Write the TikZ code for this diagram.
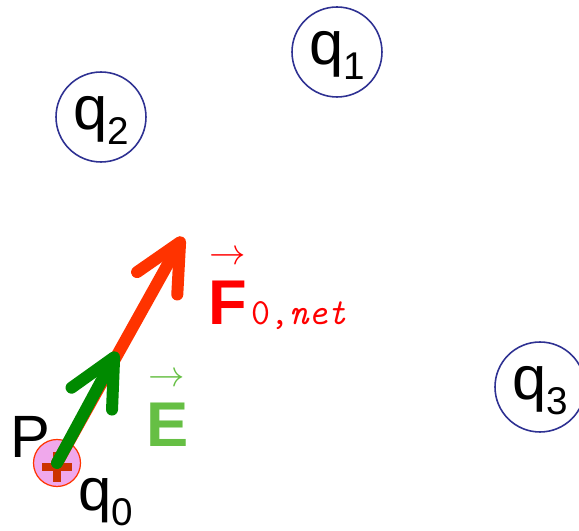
\documentclass[tikz,border=0pt]{standalone}
\usepackage{fontspec}
\setmainfont{Liberation Sans}
\usetikzlibrary{arrows.meta}
\definecolor{navy}{HTML}{2E3192}
\definecolor{fred}{HTML}{FF3300}
\definecolor{lblred}{HTML}{FF0000}
\definecolor{dgreen}{HTML}{008A00}
\definecolor{lgreen}{HTML}{66BF44}
\definecolor{testpink}{HTML}{F0A8EC}
\definecolor{plusred}{HTML}{CC3300}
\newcommand{\qlabel}[1]{q\raisebox{-0.3cm}{\fontsize{22}{22}\selectfont #1}}
\tikzset{
  charge/.style={circle,draw=navy,line width=0.9pt,minimum size=1.8cm,inner sep=0pt,
    text height=0.82cm,text depth=0.3cm,font=\fontsize{35}{40}\selectfont},
  testq/.style={circle,draw=fred,fill=testpink,line width=0.7pt,minimum size=0.94cm,inner sep=0pt},
  plussign/.style={plusred,line width=0.16cm},
  vecline/.style={line width=0.24cm,line cap=round,-{Straight Barb[length=0.94cm,width=0.92cm,round]}},
  big/.style={font=\fontsize{34}{40}\selectfont,inner sep=0pt},
  vlbl/.style={font=\fontsize{36}{40}\selectfont\bfseries,inner sep=0pt,anchor=base west},
  vhat/.style={font=\fontsize{21}{21}\selectfont,inner sep=0pt},
  sublbl/.style={font=\fontsize{21}{22}\selectfont\ttfamily,inner sep=0pt,anchor=base west},
}

\begin{document}
\begin{tikzpicture}[x=0.02cm,y=0.02cm]
  \useasboundingbox (0,0) rectangle (579,531);
  % source charges
  \node[charge] (q1) at (337,479) {\qlabel{1}};
  \node[charge] (q2) at (101,414) {\qlabel{2}};
  \node[charge] (q3) at (540,144) {\qlabel{3}};
  % test charge at P
  \node[testq] (q0) at (57,68) {};
  \draw[plussign] ([shift={(-15,-4)}]q0.center) -- ([shift={(15,-4)}]q0.center);
  \draw[plussign] ([shift={(0,-19)}]q0.center) -- ([shift={(0,11)}]q0.center);
  \node[big,anchor=base] (P) at (30,73) {P};
  \node[big,anchor=base west] (q0lbl) at (78,20) {\qlabel{0}};
  % vectors
  \coordinate (Ftip) at (183,294);
  \coordinate (Etip) at (117,179);
  \draw[vecline,fred] (q0.center) -- (Ftip);
  \draw[vecline,dgreen] (q0.center) -- (Etip);
  % labels
  \node[vlbl,lblred] (F) at (208,206) {F};
  \node[sublbl,lblred] (Fsub) at ([xshift=2pt]F.base east) {0,\textit{net}};
  \node[vhat,lblred] (Fhat) at (228,273) {$\rightarrow$};
  \node[vlbl,lgreen] (E) at (146,84) {E};
  \node[vhat,lgreen] (Ehat) at (167,151) {$\rightarrow$};
\end{tikzpicture}
\end{document}
